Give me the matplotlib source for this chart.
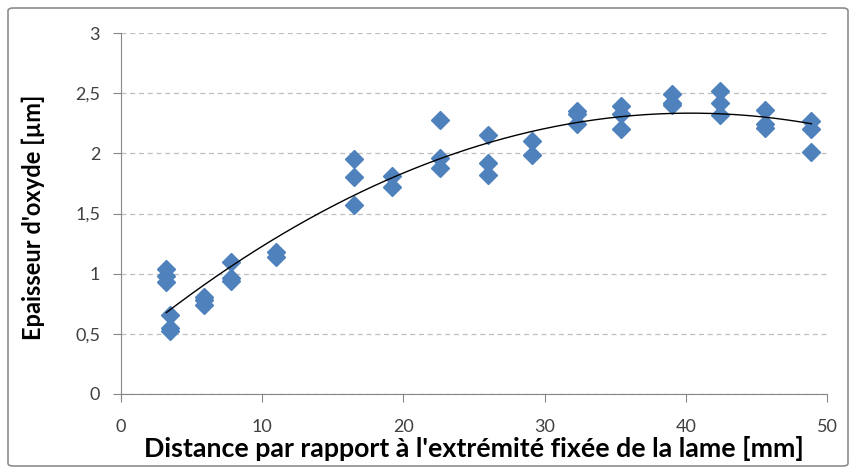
import numpy as np
import matplotlib.pyplot as plt
from matplotlib.patches import FancyBboxPatch

# Mesures : distance (mm) et épaisseur d'oxyde (µm)
distance = [3.2, 3.2, 3.2, 3.5, 3.5, 3.5,
            5.9, 5.9, 5.9,
            7.8, 7.8, 7.8,
            11.0, 11.0,
            16.5, 16.5, 16.5,
            19.2, 19.2,
            22.6, 22.6, 22.6,
            26.0, 26.0, 26.0,
            29.1, 29.1,
            32.3, 32.3, 32.3,
            35.4, 35.4, 35.4,
            39.0, 39.0, 39.0,
            42.4, 42.4, 42.4,
            45.6, 45.6, 45.6,
            48.9, 48.9, 48.9]
epaisseur = [1.04, 0.98, 0.93, 0.66, 0.55, 0.52,
             0.81, 0.78, 0.74,
             1.10, 0.96, 0.94,
             1.18, 1.14,
             1.95, 1.80, 1.57,
             1.81, 1.72,
             2.28, 1.96, 1.88,
             2.15, 1.92, 1.82,
             2.10, 1.99,
             2.35, 2.33, 2.24,
             2.39, 2.33, 2.20,
             2.49, 2.42, 2.40,
             2.52, 2.42, 2.32,
             2.36, 2.24, 2.21,
             2.27, 2.20, 2.01]

yticks = [0, 0.5, 1, 1.5, 2, 2.5, 3]
ytick_labels = ['0', '0,5', '1', '1,5', '2', '2,5', '3']
xticks = [0, 10, 20, 30, 40, 50]

plt.rcParams['font.family'] = ['Lato', 'DejaVu Sans']

fig = plt.figure(figsize=(8.56, 4.74), dpi=100)
ax = fig.add_axes([121/856, 1 - 394/474, (827-121)/856, (394-33)/474])

# cadre autour du graphique
fig.patches.append(FancyBboxPatch((8/856, 8/474), 840/856, 458/474,
                                  boxstyle='round,pad=0,rounding_size=0.006',
                                  transform=fig.transFigure, fill=False,
                                  edgecolor='#8c8c8c', linewidth=1.2))

ax.plot(distance, epaisseur, linestyle='none', marker='D', markersize=9,
        color='#4f81bd', markeredgecolor='#4f81bd', zorder=3)

# courbe de tendance polynomiale d'ordre 2
coef = np.polyfit(distance, epaisseur, 2)
xs = np.linspace(min(distance), max(distance), 200)
ax.plot(xs, np.polyval(coef, xs), color='black', linewidth=1.0, zorder=4)

ax.set_xlim(0, 50)
ax.set_ylim(0, 3)
ax.set_xticks(xticks)
ax.set_yticks(yticks)
ax.set_yticklabels(ytick_labels)
ax.tick_params(labelsize=13, colors='#404040', length=6, color='#868686')
ax.tick_params(axis='x', pad=12)
ax.tick_params(axis='y', pad=9)
ax.grid(axis='y', linestyle=(0, (4, 3)), color='#bfbfbf', linewidth=0.9)
ax.set_axisbelow(True)
for s in ['top', 'right']:
    ax.spines[s].set_visible(False)
for s in ['left', 'bottom']:
    ax.spines[s].set_color('#868686')

ax.set_xlabel("Distance par rapport à l'extrémité fixée de la lame [mm]",
              fontsize=19.3, fontweight='bold', color='black', labelpad=1)
ax.set_ylabel("Epaisseur d'oxyde [µm]", fontsize=17, fontweight='bold',
              color='black')
ax.yaxis.set_label_coords(-0.108, 0.49)

fig.savefig('out.png', dpi=100)
